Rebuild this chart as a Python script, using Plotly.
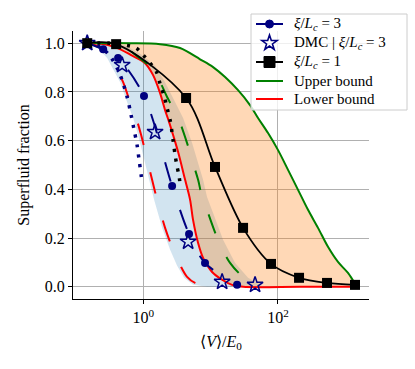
import math
import plotly.graph_objects as go

# ---------------- data ----------------
# xi/Lc = 1 (black squares)
xi1_x = [0.146, 0.393, 4.31, 11.6, 30.3, 78.9, 206, 537, 1400]
xi1_y = [1.0, 0.996, 0.775, 0.492, 0.242, 0.094, 0.037, 0.016, 0.008]

# xi/Lc = 3 (navy circles)
xi3_x = [0.146, 0.252, 0.42, 1.02, 2.67, 4.77, 8.24, 24.7]
xi3_y = [1.0, 0.975, 0.939, 0.783, 0.414, 0.217, 0.098, 0.008]

# DMC | xi/Lc = 3 (open stars)
dmc_x = [0.146, 0.483, 1.49, 4.62, 14.8, 45.7]
dmc_y = [1.0, 0.91, 0.635, 0.185, 0.02, 0.008]

# navy dotted curve
nd_x = [0.146, 0.2275, 0.320, 0.4207, 0.482, 0.573, 0.656, 0.728, 0.805, 0.863, 0.925, 0.957]
nd_y = [1.0, 0.984, 0.947, 0.889, 0.848, 0.779, 0.705, 0.643, 0.582, 0.520, 0.459, 0.422]

# black dotted curve
bd_x = [0.146, 0.320, 0.535, 0.780, 0.991, 1.259, 1.545, 1.774, 2.032, 2.249, 2.495, 2.761, 2.958, 3.170, 3.388, 3.508]
bd_y = [1.0, 1.0, 0.992, 0.980, 0.951, 0.918, 0.885, 0.832, 0.783, 0.734, 0.684, 0.602, 0.541, 0.492, 0.455, 0.422]

# Lower bound (solid red)
lo1_x = [0.146, 0.212, 0.380, 0.656, 1.059, 1.393, 1.770, 2.099, 2.410, 2.761, 3.281, 4.169, 4.943, 5.470, 6.501, 7.709, 10.50, 14.76, 20.80, 30.34, 212.8, 1400]
lo1_y = [1.0, 1.0, 0.984, 0.951, 0.918, 0.869, 0.795, 0.725, 0.676, 0.623, 0.553, 0.439, 0.357, 0.275, 0.180, 0.119, 0.061, 0.029, 0.008, 0.0, 0.0, 0.0]

# Upper bound (solid green)
up1_x = [0.146, 0.634, 1.770, 3.508, 6.95, 10.86, 16.37, 25.53, 38.46, 50.6, 71.3, 100.4, 141.3, 199.1, 280.1, 394.5, 555, 781.6, 1101, 1400]
up1_y = [1.0, 1.0, 0.996, 0.980, 0.934, 0.902, 0.861, 0.807, 0.746, 0.693, 0.631, 0.561, 0.480, 0.398, 0.316, 0.242, 0.164, 0.102, 0.057, 0.012]

# lower bound xi/Lc = 3 (dashed red)
lo3_x = [0.146, 0.2275, 0.320, 0.406, 0.499, 0.634, 0.780, 0.925, 1.097, 1.346, 1.600, 2.099, 2.761, 3.508, 4.457, 5.861, 8.831]
lo3_y = [1.0, 0.984, 0.939, 0.889, 0.840, 0.758, 0.693, 0.623, 0.541, 0.439, 0.357, 0.242, 0.152, 0.090, 0.041, 0.016, 0.004]

# upper bound xi/Lc = 3 (dashed green)
up3_x = [0.146, 0.451, 0.805, 1.259, 1.770, 2.249, 3.281, 4.457, 5.297, 6.501, 7.447, 9.141, 12.88, 19.41, 29.31, 45.71]
up3_y = [1.0, 0.992, 0.947, 0.902, 0.840, 0.779, 0.693, 0.590, 0.520, 0.439, 0.369, 0.303, 0.193, 0.098, 0.045, 0.016]

# blue band edges (xi/Lc = 3)
band_lo_x = [0.146, 0.205, 0.289, 0.367, 0.451, 0.573, 0.703, 0.834, 0.991, 1.216, 1.442, 1.897, 2.495, 3.170, 4.027, 5.470, 8.831]
band_lo_y = [1.0, 0.984, 0.939, 0.889, 0.840, 0.758, 0.693, 0.623, 0.541, 0.439, 0.357, 0.242, 0.152, 0.086, 0.037, 0.008, 0.0]
band_hi_x = [0.146, 0.535, 0.957, 1.493, 2.099, 2.667, 3.890, 5.297, 6.281, 7.709, 8.831, 10.86, 15.28, 23.07, 35.97, 58.08]
band_hi_y = [1.0, 0.992, 0.951, 0.906, 0.840, 0.779, 0.693, 0.590, 0.520, 0.439, 0.369, 0.303, 0.193, 0.098, 0.037, 0.004]

y_ticks = [0.0, 0.2, 0.4, 0.6, 0.8, 1.0]
y_tick_labels = ["0.0", "0.2", "0.4", "0.6", "0.8", "1.0"]
x_ticks = [1, 100]
x_tick_labels = ["10<sup>0</sup>", "10<sup>2</sup>"]

legend_labels = ["<i>ξ</i>/<i>L<sub>c</sub></i> = 3",
                 "DMC | <i>ξ</i>/<i>L<sub>c</sub></i> = 3",
                 "<i>ξ</i>/<i>L<sub>c</sub></i> = 1",
                 "Upper bound",
                 "Lower bound"]

FONT = "Liberation Serif"
NAVY = "#000080"

W, H = 415, 369
ML, MR, MT, MB = 73, 46, 31, 70
PW, PH = W - ML - MR, H - MT - MB

fig = go.Figure()

# fills
fig.add_trace(go.Scatter(x=band_lo_x + band_hi_x[::-1], y=band_lo_y + band_hi_y[::-1],
                         fill="toself", fillcolor="rgba(31,119,180,0.2)",
                         line=dict(width=0), mode="lines", showlegend=False, hoverinfo="skip"))
fig.add_trace(go.Scatter(x=lo1_x + up1_x[::-1], y=lo1_y + up1_y[::-1],
                         fill="toself", fillcolor="rgba(255,127,14,0.3)",
                         line=dict(width=0), mode="lines", showlegend=False, hoverinfo="skip"))

sm = 0.9
# bound curves
fig.add_trace(go.Scatter(x=up1_x, y=up1_y, mode="lines", showlegend=False,
                         line=dict(color="green", width=2, shape="spline", smoothing=sm)))
fig.add_trace(go.Scatter(x=lo1_x, y=lo1_y, mode="lines", showlegend=False,
                         line=dict(color="red", width=2, shape="spline", smoothing=sm)))
fig.add_trace(go.Scatter(x=up3_x, y=up3_y, mode="lines", showlegend=False,
                         line=dict(color="green", width=2, shape="spline", smoothing=sm, dash="20px,26px")))
fig.add_trace(go.Scatter(x=lo3_x, y=lo3_y, mode="lines", showlegend=False,
                         line=dict(color="red", width=2, shape="spline", smoothing=sm, dash="22px,28px")))

# dotted curves
fig.add_trace(go.Scatter(x=nd_x, y=nd_y, mode="lines", showlegend=False,
                         line=dict(color=NAVY, width=3.5, shape="spline", smoothing=sm, dash="3px,7px")))
fig.add_trace(go.Scatter(x=bd_x, y=bd_y, mode="lines", showlegend=False,
                         line=dict(color="black", width=3.5, shape="spline", smoothing=sm, dash="3px,7px")))

# data series
fig.add_trace(go.Scatter(x=xi3_x, y=xi3_y, mode="lines+markers", showlegend=False,
                         line=dict(color=NAVY, width=2, shape="spline", smoothing=sm, dash="20px,30px"),
                         marker=dict(symbol="circle", size=8, color=NAVY)))
fig.add_trace(go.Scatter(x=dmc_x, y=dmc_y, mode="markers", showlegend=False,
                         marker=dict(symbol="star-open", size=12, color=NAVY, line=dict(width=1.5, color=NAVY))))
fig.add_trace(go.Scatter(x=xi1_x, y=xi1_y, mode="lines+markers", showlegend=False,
                         line=dict(color="black", width=1.8, shape="spline", smoothing=sm),
                         marker=dict(symbol="square", size=10, color="black")))


# ---------------- hand-built legend (paper coordinates) ----------------
def px2x(px):
    return (px - ML) / PW


def py2y(py):
    return (H - MB - py) / PH


shapes = []
annotations = []
box = dict(x0=251, x1=407, y0=14, y1=110)
shapes.append(dict(type="rect", xref="paper", yref="paper", layer="above",
                   x0=px2x(box["x0"]), x1=px2x(box["x1"]), y0=py2y(box["y1"]), y1=py2y(box["y0"]),
                   fillcolor="rgba(255,255,255,0.8)", line=dict(color="#cccccc", width=1)))
rows = [24, 43, 62, 81, 99]
hx0, hx1, hxc, tx = 256, 283, 269.5, 292


def hline(py, color):
    shapes.append(dict(type="line", xref="paper", yref="paper", layer="above",
                       x0=px2x(hx0), x1=px2x(hx1), y0=py2y(py), y1=py2y(py),
                       line=dict(color=color, width=2)))


def pix_shape(kind, py, color, half, fill=True, path=None, lw=1):
    d = dict(type=kind, xref="paper", yref="paper", layer="above",
             xsizemode="pixel", ysizemode="pixel", xanchor=px2x(hxc), yanchor=py2y(py),
             line=dict(color=color, width=lw),
             fillcolor=color if fill else "rgba(0,0,0,0)")
    if path is not None:
        d["path"] = path
    else:
        d.update(x0=-half, x1=half, y0=-half, y1=half)
    shapes.append(d)


hline(rows[0], NAVY)
pix_shape("circle", rows[0], NAVY, 4)
# star
R, r = 8.0, 3.1
pts = []
for k in range(10):
    ang = math.pi / 2 + k * math.pi / 5
    rad = R if k % 2 == 0 else r
    pts.append((rad * math.cos(ang), rad * math.sin(ang)))
star_path = "M" + " L".join(f"{x:.2f},{y:.2f}" for x, y in pts) + " Z"
pix_shape("path", rows[1], NAVY, 0, fill=False, path=star_path, lw=1.6)
hline(rows[2], "black")
pix_shape("rect", rows[2], "black", 5.5)
hline(rows[3], "green")
hline(rows[4], "red")

for py, lab in zip(rows, legend_labels):
    annotations.append(dict(xref="paper", yref="paper", x=px2x(tx), y=py2y(py),
                            xanchor="left", yanchor="middle", text=lab, showarrow=False,
                            font=dict(family=FONT, size=15, color="black")))

fig.update_layout(
    width=W, height=H,
    margin=dict(l=ML, r=MR, t=MT, b=MB, autoexpand=False),
    paper_bgcolor="white", plot_bgcolor="white",
    font=dict(family=FONT, size=16, color="black"),
    showlegend=False,
    shapes=shapes, annotations=annotations,
    xaxis=dict(type="log", range=[-1.047, 3.354], tickvals=x_ticks, ticktext=x_tick_labels,
               automargin=False,
               showgrid=True, gridcolor="#b0b0b0", gridwidth=1, zeroline=False,
               showline=True, linecolor="black", linewidth=1.2,
               ticks="outside", ticklen=4, tickcolor="black", tickwidth=1.2,
               title=dict(text="⟨<i>V</i>⟩/<i>E</i><sub>0</sub>", font=dict(family=FONT, size=16), standoff=10)),
    yaxis=dict(range=[-0.05, 1.05], tickvals=y_ticks, ticktext=y_tick_labels,
               automargin=False,
               showgrid=True, gridcolor="#b0b0b0", gridwidth=1, zeroline=False,
               showline=True, linecolor="black", linewidth=1.2,
               ticks="outside", ticklen=4, tickcolor="black", tickwidth=1.2,
               title=dict(text="Superfluid fraction", font=dict(family=FONT, size=16), standoff=11)),
)

fig.write_html("out.html", config={"displayModeBar": False},
               post_script="document.body.style.margin='0px';")
